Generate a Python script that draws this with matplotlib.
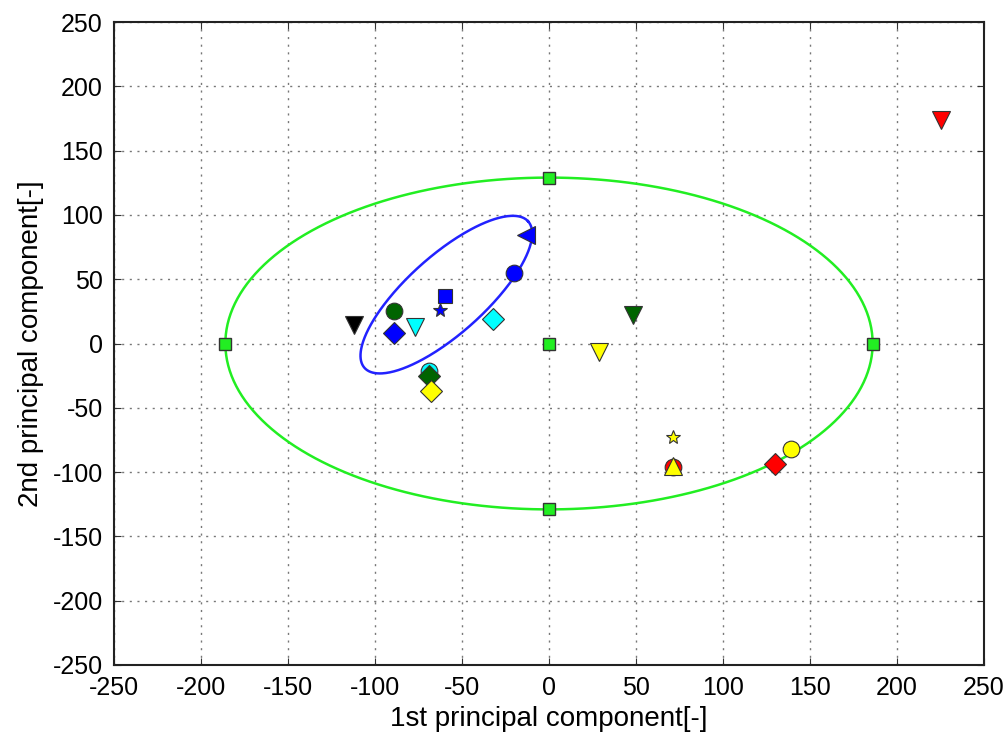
import numpy as np
import matplotlib
matplotlib.use("Agg")
import matplotlib.pyplot as plt

plt.rcParams['font.family'] = ['Liberation Sans', 'DejaVu Sans']
plt.rcParams['axes.unicode_minus'] = False

# Data points: (x, y, marker, face colour)
pts_x = [225, 48.5, 28.5, -13, -20, -60, -62.5, -32, -89, -89, -77, -112, -69, -69, -68, 71, 71, 71, 130, 139]
pts_y = [174, 22.5, -6.5, 84, 55, 37, 26, 19, 25.5, 8.5, 13, 14, -21, -25, -37, -73, -96, -95, -94, -82]
pts_m = ['v', 'v', 'v', '<', 'o', 's', '*', 'D', 'o', 'D', 'v', 'v', 'o', 'D', 'D', '*', 'o', '^', 'D', 'o']
pts_c = ['red', 'darkgreen', 'yellow', 'blue', 'blue', 'blue', 'blue', 'cyan', 'darkgreen', 'blue',
         'cyan', 'black', 'cyan', 'darkgreen', 'yellow', 'yellow', 'red', 'yellow', 'red', 'yellow']

# Green (global) ellipse: semi-axes
g_a = 186
g_b = 129
sq_x = [-186, 186, 0, 0, 0]
sq_y = [0, 0, 129, -129, 0]

# Blue ellipse: centre, major half-vector, minor half-vector
b_c = (-59, 38)
b_u = (47, 57)
b_v = (15, -22.5)

ms_map = {'v': 13.5, '^': 13, '<': 13, 'o': 12, 's': 10.5, '*': 10.5, 'D': 11}

fig = plt.figure(figsize=(10.05, 7.34), dpi=100)
ax = fig.add_axes([114/1005, 1-665/734, (984-114)/1005, (665-22)/734])

t = np.linspace(0, 2*np.pi, 400)
ax.plot(g_a*np.cos(t), g_b*np.sin(t), color='#22ee22', lw=1.8, zorder=2)
ax.plot(b_c[0] + b_u[0]*np.cos(t) + b_v[0]*np.sin(t),
        b_c[1] + b_u[1]*np.cos(t) + b_v[1]*np.sin(t), color='#2222ff', lw=1.8, zorder=2)
ax.plot(sq_x, sq_y, 's', ls='none', ms=9, mfc='#22ee22', mec='#333333', mew=1.0, zorder=3)

for x, y, m, c in zip(pts_x, pts_y, pts_m, pts_c):
    ax.plot([x], [y], marker=m, ls='none', ms=ms_map[m],
            mfc=c, mec='#333333', mew=0.8, zorder=4)

ax.set_xlim(-250, 250)
ax.set_ylim(-250, 250)
ax.set_xticks(np.arange(-250, 251, 50))
ax.set_yticks(np.arange(-250, 251, 50))
ax.grid(True, color='#777777', ls=(0, (1.5, 4)), lw=1.0)
ax.tick_params(direction='in', length=5, labelsize=18, pad=8, top=True, right=True, color='#333333')
for sp in ax.spines.values():
    sp.set_linewidth(1.5)
    sp.set_color('#222222')
ax.set_xlabel('1st principal component[-]', fontsize=20, labelpad=4)
ax.set_ylabel('2nd principal component[-]', fontsize=20, labelpad=6)

fig.savefig('out.png', dpi=100)
